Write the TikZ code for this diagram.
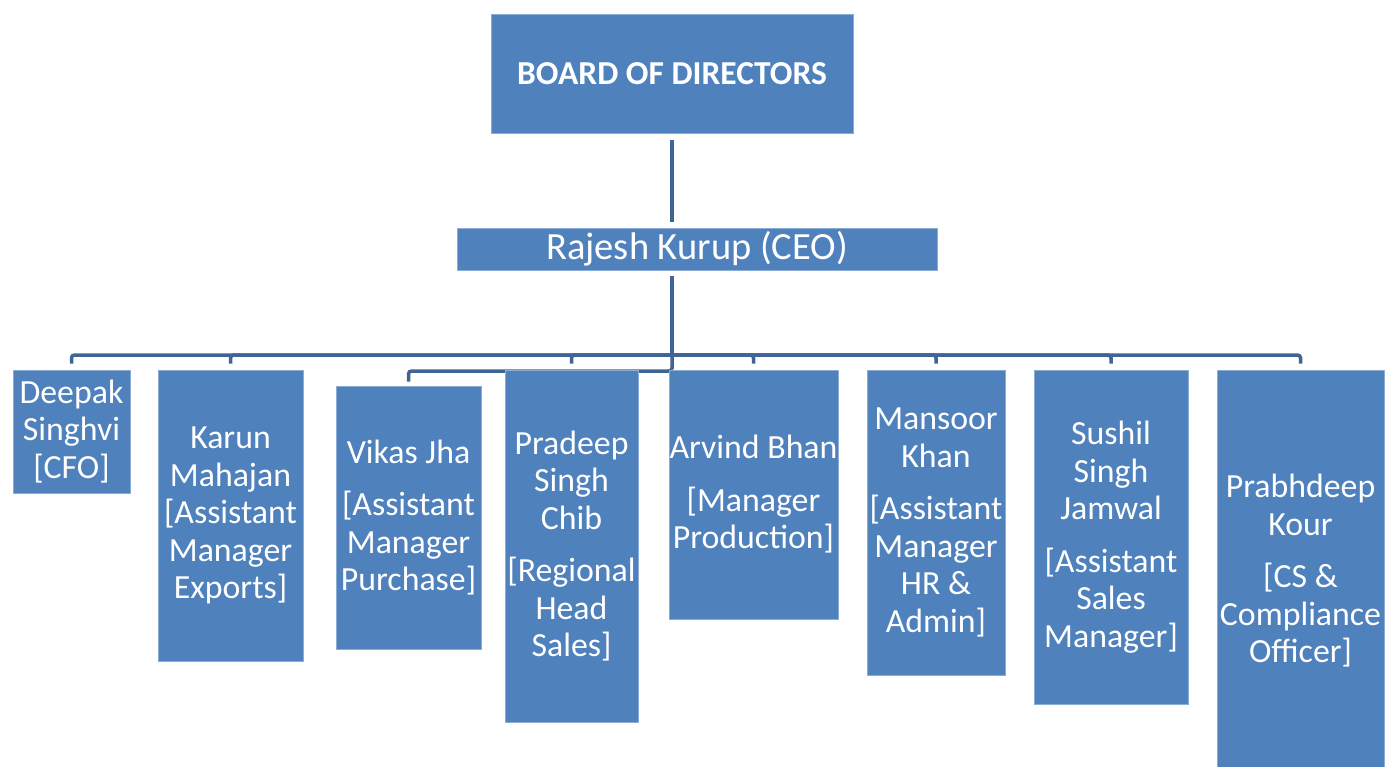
\documentclass[tikz,border=0pt]{standalone}
\usepackage{fontspec}
\setmainfont{Carlito}
\usetikzlibrary{backgrounds}

\definecolor{boxblue}{RGB}{79,129,189}
\definecolor{boxedge}{RGB}{140,172,214}
\definecolor{linkblue}{RGB}{62,101,150}

\tikzset{
  unit/.style={fill=boxblue, draw=boxedge, line width=0.8pt, text=white,
    align=center, inner sep=0pt, font=\fontsize{33.8}{37.5}\selectfont},
  link/.style={draw=linkblue, line width=4pt, rounded corners=3pt}
}

\begin{document}
\begin{tikzpicture}[x=1pt, y=-1pt]
		\useasboundingbox (0,0) rectangle (1396,767);

		% top levels
		\node[unit, minimum width=362pt, minimum height=119pt,
			font=\fontsize{33.5}{38}\selectfont\bfseries] (board) at (672,73.5) {BOARD OF DIRECTORS};
		\node[unit, minimum width=480pt, minimum height=42pt,
			font=\fontsize{38.5}{42}\selectfont] (ceo) at (697,249) {Rajesh Kurup (CEO)};

		% staff
		\node[unit, minimum width=117pt, minimum height=123pt] (deepak) at (71.5,431.5) {Deepak\\Singhvi\\{[CFO]}};
		\node[unit, minimum width=145pt, minimum height=291pt] (karun) at (230.5,515.5) {Karun\\Mahajan\\{[Assistant}\\Manager\\Exports]};
		\node[unit, minimum width=145pt, minimum height=263pt] (vikas) at (408.5,517.5) {Vikas Jha\\[15pt]{[Assistant}\\Manager\\Purchase]};
		\node[unit, minimum width=133pt, minimum height=352pt] (pradeep) at (571.5,546) {Pradeep\\Singh\\Chib\\[15pt]{[Regional}\\Head\\Sales]};
		\node[unit, minimum width=169pt, minimum height=249pt] (arvind) at (753.5,494.5) {Arvind Bhan\\[15pt]{[Manager}\\Production]};
		\node[unit, minimum width=138pt, minimum height=305pt] (mansoor) at (936,522.5) {Mansoor\\Khan\\[15pt]{[Assistant}\\Manager\\HR \&\\Admin]};
		\node[unit, minimum width=154pt, minimum height=334pt] (sushil) at (1111,537) {Sushil\\Singh\\Jamwal\\[15pt]{[Assistant}\\Sales\\Manager]};
		\node[unit, minimum width=167pt, minimum height=402pt] (prabh) at (1300.5,571) {Prabhdeep\\Kour\\[15pt]{[CS \&}\\Compliance\\Officer]};

		\coordinate (hub) at (672,355);

		\begin{scope}[on background layer]
			\draw[link, shorten <=7pt, shorten >=6pt] (board.south) -- (board.south |- ceo.north);
			\draw[link, shorten <=6pt] (board.south |- ceo.south) -- (hub);
			\foreach \n in {deepak,karun,pradeep,arvind,mansoor,sushil,prabh}
				\draw[link, line width=3.5pt, shorten >=6pt] (hub) -| (\n.north);
			\draw[link, line width=3.5pt, shorten >=4pt] (hub) -- ++(0,16) -| (vikas.north);
		\end{scope}
	\end{tikzpicture}
\end{document}
